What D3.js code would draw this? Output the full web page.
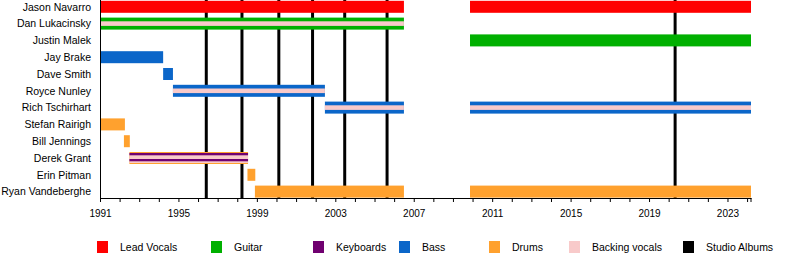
<!DOCTYPE html>
<head>
    <meta charset="UTF-8">
    <style>
    body { margin: 0; background: white; }
    svg text { font-family: "Liberation Sans", Arial, sans-serif; font-size: 10.5px; fill: #000; }
    </style>
</head>
<svg width="800" height="258"></svg>
<script src="https://d3js.org/d3.v7.min.js"></script>
<script>
// band members, top to bottom
var members = ["Jason Navarro", "Dan Lukacinsky", "Justin Malek", "Jay Brake", "Dave Smith",
    "Royce Nunley", "Rich Tschirhart", "Stefan Rairigh", "Bill Jennings", "Derek Grant",
    "Erin Pitman", "Ryan Vandeberghe"];

var roles = ["Lead Vocals", "Guitar", "Keyboards", "Bass", "Drums", "Backing vocals"];
var roleColors = ["#ff0000", "#00b000", "#700070", "#0b66c9", "#ffa12e", "#f8caca"];

// member, start, end, roles (main role first)
var spells = [
    ["Jason Navarro", 1991, 2006.5, ["Lead Vocals"]],
    ["Jason Navarro", 2009.87, 2024.2, ["Lead Vocals"]],
    ["Dan Lukacinsky", 1991, 2006.5, ["Guitar", "Backing vocals"]],
    ["Justin Malek", 2009.87, 2024.2, ["Guitar"]],
    ["Jay Brake", 1991, 1994.22, ["Bass"]],
    ["Dave Smith", 1994.22, 1994.72, ["Bass"]],
    ["Royce Nunley", 1994.72, 2002.47, ["Bass", "Backing vocals"]],
    ["Rich Tschirhart", 2002.47, 2006.5, ["Bass", "Backing vocals"]],
    ["Rich Tschirhart", 2009.87, 2024.2, ["Bass", "Backing vocals"]],
    ["Stefan Rairigh", 1991, 1992.27, ["Drums"]],
    ["Bill Jennings", 1992.22, 1992.52, ["Drums"]],
    ["Derek Grant", 1992.5, 1998.55, ["Drums", "Keyboards", "Backing vocals"]],
    ["Erin Pitman", 1998.52, 1998.92, ["Drums"]],
    ["Ryan Vandeberghe", 1998.9, 2006.5, ["Drums"]],
    ["Ryan Vandeberghe", 2009.87, 2024.2, ["Drums"]]
];

// studio album release dates
var albums = [1996.42, 1998.24, 2000.12, 2001.84, 2003.48, 2005.64, 2020.33];

var tickYears = [1991, 1995, 1999, 2003, 2007, 2011, 2015, 2019, 2023];

var svg = d3.select("svg");
var color = d3.scaleOrdinal().domain(roles).range(roleColors);

var x = d3.scaleLinear().domain([1991, 2024.2]).range([100, 751]);
var y = d3.scaleBand().domain(members).range([-1.6, 200]);
var cy = function(m) { return y(m) + y.bandwidth() / 2; };
var axisY = 198;

// album lines go under the bars
svg.append("g").selectAll("line")
    .data(albums)
    .enter().append("line")
    .attr("x1", function(d) { return x(d); })
    .attr("x2", function(d) { return x(d); })
    .attr("y1", 0)
    .attr("y2", axisY)
    .attr("stroke", "#000")
    .attr("stroke-width", 3);

// stripe layouts [role index in spell, top offset, bottom offset]
function layers(r) {
    if (r.length == 1) return [[0, -6, 6]];
    if (r.length == 2) return [[0, -6, 6], [1, -2.3, 2.3]];
    return [[0, -6, 6], [2, -5, 5], [1, -5, -2.7], [1, 1, 3.3]];
}

var bars = svg.append("g");
spells.forEach(function(s) {
    layers(s[3]).forEach(function(l) {
        bars.append("rect")
            .attr("x", x(s[1]))
            .attr("width", x(s[2]) - x(s[1]))
            .attr("y", cy(s[0]) + l[1])
            .attr("height", l[2] - l[1])
            .attr("fill", color(s[3][l[0]]));
    });
});

// member names
svg.append("g").selectAll("text")
    .data(members)
    .enter().append("text")
    .attr("x", 91)
    .attr("y", function(d) { return cy(d) + 3.7; })
    .attr("text-anchor", "end")
    .text(function(d) { return d; });

// left frame line
svg.append("line")
    .attr("x1", 100.5).attr("x2", 100.5)
    .attr("y1", 0).attr("y2", axisY)
    .attr("stroke", "#000");

// time axis: minor ticks every year, labels every 4
var xAxis = d3.axisBottom(x)
    .tickValues(d3.range(1991, 2025))
    .tickSize(4)
    .tickSizeOuter(0)
    .tickFormat(function(d) { return tickYears.indexOf(d) >= 0 ? d : ""; });

var ax = svg.append("g")
    .attr("transform", "translate(0," + axisY + ")")
    .call(xAxis);
ax.select(".domain").attr("stroke", "#000");
ax.selectAll(".tick line").attr("stroke", "#000");
ax.selectAll(".tick text")
    .attr("dy", null)
    .attr("y", 19)
    .style("font-family", "Liberation Sans, Arial, sans-serif")
    .style("font-size", "10px");
ax.append("line")
    .attr("x1", x(2024.2)).attr("x2", x(2024.2))
    .attr("y1", 0).attr("y2", 4)
    .attr("stroke", "#000");

// legend
var legendItems = roles.concat(["Studio Albums"]);
var legendColors = roleColors.concat(["#000"]);
var legendX = [97, 211, 313, 399, 489, 569, 683];
var lg = svg.append("g").selectAll("g")
    .data(legendItems)
    .enter().append("g")
    .attr("transform", function(d, i) { return "translate(" + legendX[i] + ",241)"; });
lg.append("rect")
    .attr("width", 11)
    .attr("height", 12)
    .attr("fill", function(d, i) { return legendColors[i]; });
lg.append("text")
    .attr("x", 23)
    .attr("y", 10)
    .text(function(d) { return d; });
</script>
